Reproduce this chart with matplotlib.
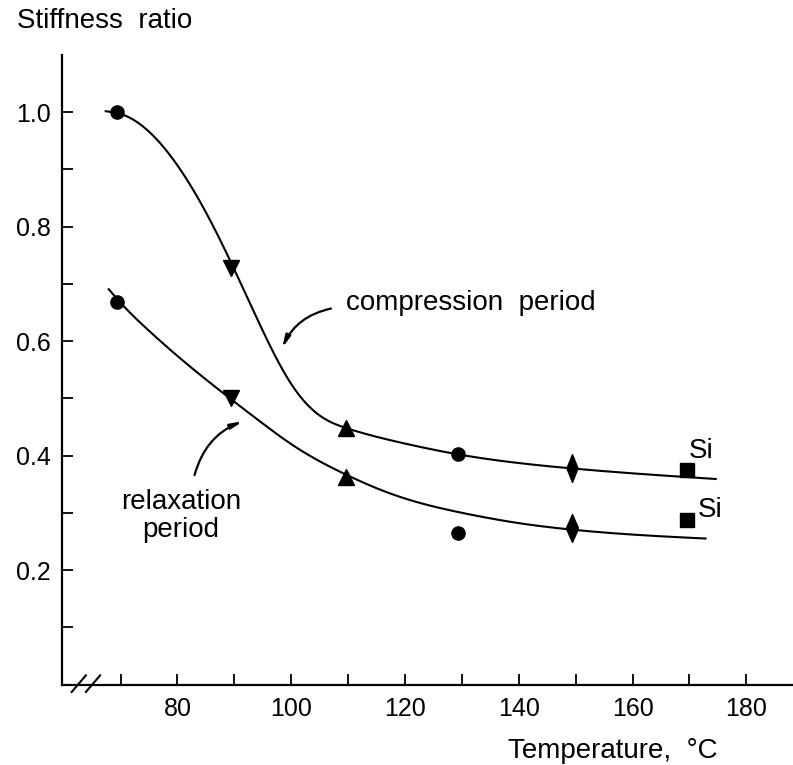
"""
Stiffness ratio vs. temperature for the compression and relaxation periods.
"""

import numpy as np
import matplotlib
matplotlib.use('Agg')
import matplotlib.pyplot as plt
from matplotlib.path import Path

plt.rcParams['font.family'] = ['Liberation Sans', 'DejaVu Sans']

# measured points, compression period (upper) and relaxation period (lower)
temps = [69.4, 89.4, 109.7, 129.3, 149.4, 169.5]
compression = [1.0, 0.727, 0.448, 0.402, 0.379, 0.374]
relaxation = [0.668, 0.501, 0.363, 0.265, 0.273, 0.287]
comp_markers = ['circle', 'down', 'up', 'circle', 'diamond', 'square']
relax_markers = ['circle', 'down', 'up', 'circle', 'both', 'square']

# hand-drawn guide curves
comp_curve_x = [67.2, 70, 75, 80, 85, 90, 95, 100, 105, 110, 120, 130, 140, 150, 160, 174.8]
comp_curve_y = [1.002, 0.997, 0.966, 0.907, 0.825, 0.725, 0.618, 0.525, 0.470, 0.447,
                0.421, 0.401, 0.387, 0.377, 0.369, 0.359]
relax_curve_x = [67.8, 70, 75, 80, 85, 90, 95, 100, 105, 110, 115, 120, 130, 140, 150, 160, 173]
relax_curve_y = [0.692, 0.667, 0.618, 0.574, 0.533, 0.494, 0.456, 0.420, 0.390, 0.365, 0.343,
                 0.325, 0.300, 0.282, 0.270, 0.262, 0.255]

x_major = [80, 100, 120, 140, 160, 180]
x_minor = [70, 90, 110, 130, 150, 170]
y_major = [0.2, 0.4, 0.6, 0.8, 1.0]
y_minor = [0.1, 0.3, 0.5, 0.7, 0.9]

# tall diamond, and an up triangle sitting on a down triangle
DIAMOND = Path([(0, 1), (0.4, 0), (0, -1), (-0.4, 0), (0, 1)], closed=True)
DOUBLE = Path([(0, 1), (0.42, 0.05), (0.32, 0), (0.42, -0.05), (0, -1),
               (-0.42, -0.05), (-0.32, 0), (-0.42, 0.05), (0, 1)], closed=True)
MARKERS = {
    'circle': dict(marker='o', ms=9.5),
    'down': dict(marker='v', ms=12),
    'up': dict(marker='^', ms=12),
    'diamond': dict(marker=DIAMOND, ms=20),
    'both': dict(marker=DOUBLE, ms=20),
    'square': dict(marker='s', ms=9.5),
}


def natural_spline(x, y, xs):
    """Natural cubic spline through the read curve points, only used for drawing."""
    x = np.asarray(x, float)
    y = np.asarray(y, float)
    n = len(x)
    h = np.diff(x)
    A = np.zeros((n, n))
    b = np.zeros(n)
    A[0, 0] = A[-1, -1] = 1.0
    for i in range(1, n - 1):
        A[i, i - 1] = h[i - 1]
        A[i, i] = 2 * (h[i - 1] + h[i])
        A[i, i + 1] = h[i]
        b[i] = 3 * ((y[i + 1] - y[i]) / h[i] - (y[i] - y[i - 1]) / h[i - 1])
    c = np.linalg.solve(A, b)
    idx = np.clip(np.searchsorted(x, xs) - 1, 0, n - 2)
    hi = h[idx]
    bi = (y[idx + 1] - y[idx]) / hi - hi * (2 * c[idx] + c[idx + 1]) / 3
    di = (c[idx + 1] - c[idx]) / (3 * hi)
    t = xs - x[idx]
    return y[idx] + bi * t + c[idx] * t**2 + di * t**3


def draw_curve(ax, cx, cy):
    xs = np.linspace(cx[0], cx[-1], 500)
    ax.plot(xs, natural_spline(cx, cy, xs), color='black', lw=1.5, solid_capstyle='butt')


def draw_points(ax, ys, kinds):
    for t, v, kind in zip(temps, ys, kinds):
        ax.plot([t], [v], linestyle='none', color='black', mec='black', **MARKERS[kind])


fig = plt.figure(figsize=(7.93, 7.65), dpi=100)
ax = fig.add_axes([0.0782, 0.1052, 0.9218, 0.8229])
ax.set_xlim(59.7, 188.2)
ax.set_ylim(0, 1.1)

draw_curve(ax, comp_curve_x, comp_curve_y)
draw_curve(ax, relax_curve_x, relax_curve_y)
draw_points(ax, compression, comp_markers)
draw_points(ax, relaxation, relax_markers)

for side in ('top', 'right'):
    ax.spines[side].set_visible(False)
for side in ('left', 'bottom'):
    ax.spines[side].set_linewidth(1.6)

ax.set_xticks(x_major)
ax.set_xticks(x_minor, minor=True)
ax.set_yticks(y_major)
ax.set_yticks(y_minor, minor=True)
ax.set_xticklabels([str(v) for v in x_major])
ax.set_yticklabels([f'{v:.1f}' for v in y_major])
ax.tick_params(which='both', direction='in', length=8, width=1.3, labelsize=18)
ax.tick_params(axis='x', pad=9)
ax.tick_params(axis='y', pad=8)

# axis break marks on the temperature axis
for x0 in (61.4, 63.9):
    ax.plot([x0, x0 + 2.5], [-0.013, 0.016], color='black', lw=1.5, clip_on=False)

fig.text(0.021, 0.963, 'Stiffness  ratio', fontsize=20, ha='left', va='baseline')
fig.text(0.773, 0.009, 'Temperature,  \u00b0C', fontsize=20, ha='center', va='baseline')

ax.text(169.8, 0.3965, 'Si', fontsize=20, ha='left', va='baseline')
ax.text(171.4, 0.293, 'Si', fontsize=20, ha='left', va='baseline')

ax.text(109.6, 0.6536, 'compression  period', fontsize=20, ha='left', va='baseline')
ax.text(80.65, 0.3063, 'relaxation', fontsize=20, ha='center', va='baseline')
ax.text(80.5, 0.2574, 'period', fontsize=20, ha='center', va='baseline')

arrow = dict(arrowstyle='-|>,head_length=0.7,head_width=0.15', color='black', lw=1.6,
             shrinkA=0, shrinkB=0)
ax.annotate('', xy=(98.4, 0.588), xytext=(107.0, 0.657),
            arrowprops=dict(arrow, connectionstyle='arc3,rad=0.25'))
ax.annotate('', xy=(91.5, 0.460), xytext=(83.0, 0.366),
            arrowprops=dict(arrow, connectionstyle='arc3,rad=-0.25'))

fig.savefig('out.png', dpi=100, facecolor='white')
